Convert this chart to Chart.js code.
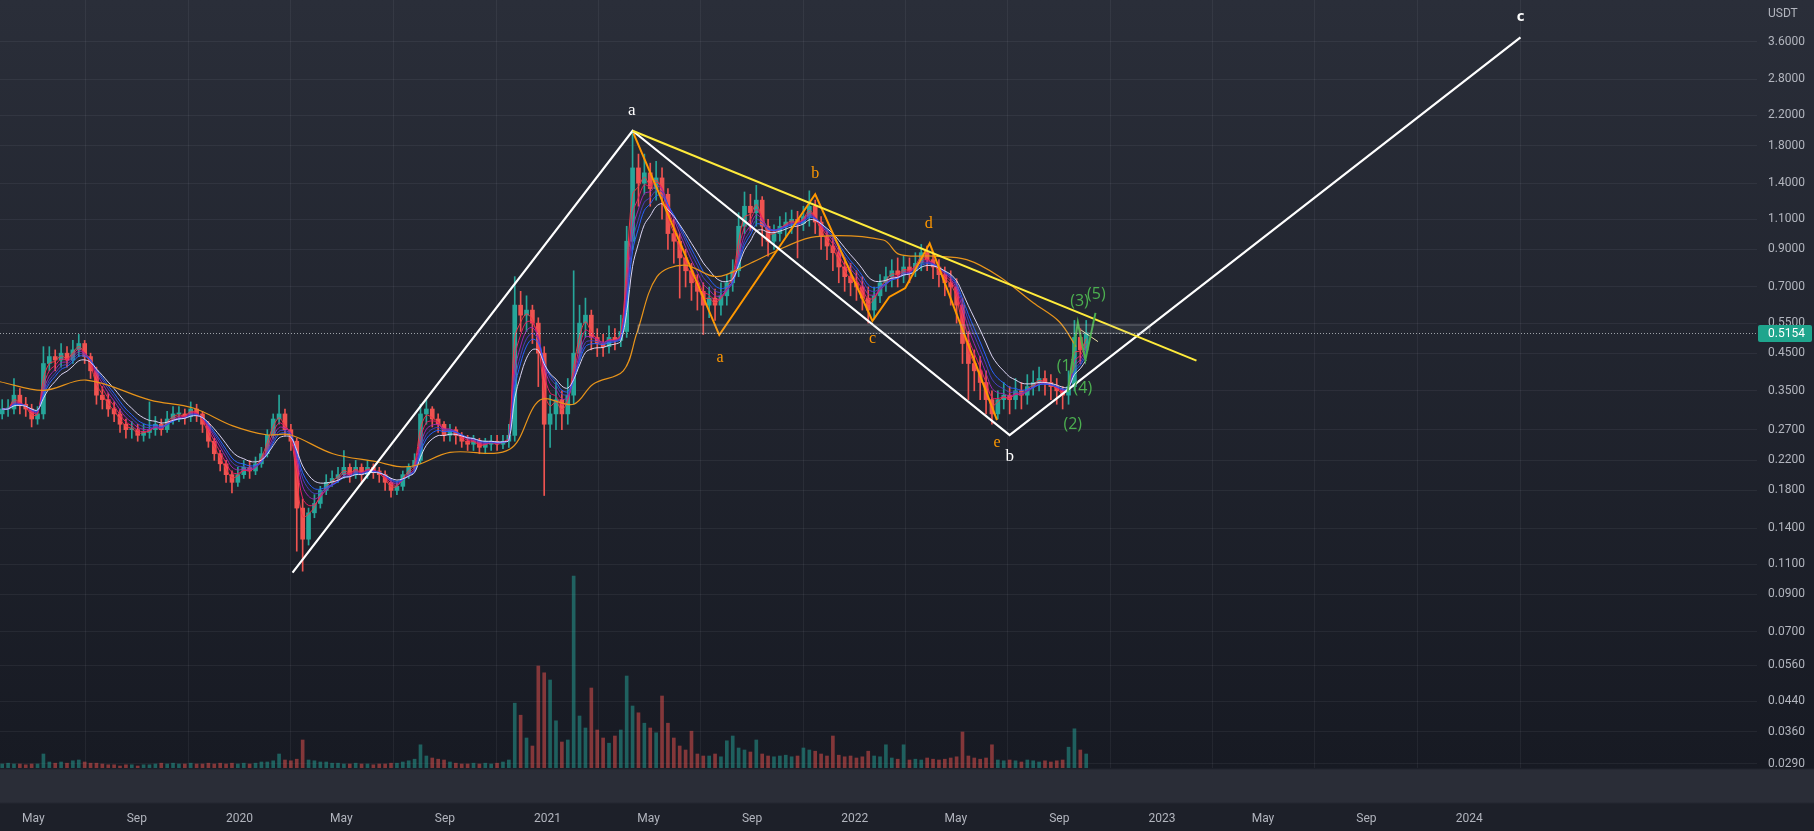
<!DOCTYPE html>
<html>
<head>
<meta charset="utf-8">
<title>USDT weekly</title>
<script src="https://cdn.jsdelivr.net/npm/chart.js@4.4.1/dist/chart.umd.min.js"></script>
<style>
  html, body { margin: 0; padding: 0; }
  body {
    width: 1814px; height: 831px; overflow: hidden;
    background: linear-gradient(to bottom, #2a2e39 0px, #171a23 768px, #2a2d37 770px, #2a2d37 802px, #1d2029 804px, #1d2029 831px);
  }
  canvas { display: block; }
</style>
</head>
<body>
<canvas id="grafic" width="1814" height="831"></canvas>
<script>
// weekly candles, first one starts on this monday
const weekStart = '2019-03-25';
const firstOpen = 0.30;
const closes = [
  0.31,0.31,0.34,0.32,0.31,0.29,0.30,0.42,0.44,0.43,
  0.45,0.43,0.46,0.48,0.44,0.40,0.34,0.33,0.31,0.30,
  0.28,0.27,0.27,0.26,0.265,0.27,0.28,0.27,0.29,0.30,
  0.30,0.295,0.31,0.30,0.28,0.25,0.23,0.215,0.20,0.19,
  0.20,0.21,0.205,0.215,0.23,0.26,0.29,0.30,0.27,0.25,
  0.16,0.13,0.155,0.165,0.18,0.19,0.195,0.20,0.21,0.20,
  0.21,0.20,0.21,0.205,0.20,0.19,0.18,0.185,0.20,0.21,
  0.22,0.30,0.31,0.29,0.28,0.26,0.27,0.26,0.25,0.245,
  0.25,0.24,0.245,0.25,0.245,0.25,0.26,0.62,0.58,0.60,
  0.55,0.45,0.28,0.30,0.33,0.30,0.34,0.45,0.55,0.58,
  0.50,0.48,0.47,0.50,0.49,0.52,0.95,1.55,1.40,1.50,
  1.35,1.45,1.30,1.00,0.95,0.85,0.78,0.72,0.68,0.62,
  0.65,0.62,0.66,0.72,0.78,1.05,1.20,1.15,1.25,1.05,
  0.95,1.00,1.05,1.08,1.10,1.07,1.12,1.20,1.08,0.98,
  0.92,0.88,0.80,0.75,0.72,0.70,0.65,0.60,0.66,0.72,
  0.75,0.78,0.76,0.80,0.78,0.82,0.88,0.84,0.80,0.76,
  0.72,0.70,0.62,0.48,0.42,0.40,0.37,0.33,0.30,0.33,
  0.34,0.33,0.35,0.34,0.36,0.37,0.38,0.37,0.36,0.35,
  0.34,0.36,0.50,0.46,0.5154
];
const highs = [
  0.33,0.33,0.38,0.355,0.335,0.32,0.315,0.47,0.47,0.46,
  0.48,0.47,0.49,0.51,0.49,0.45,0.41,0.36,0.345,0.325,
  0.31,0.29,0.285,0.28,0.28,0.325,0.295,0.29,0.305,0.315,
  0.315,0.31,0.325,0.32,0.305,0.285,0.255,0.235,0.22,0.205,
  0.21,0.22,0.22,0.225,0.24,0.27,0.30,0.34,0.31,0.28,
  0.255,0.17,0.16,0.175,0.185,0.20,0.205,0.21,0.235,0.215,
  0.22,0.215,0.22,0.215,0.21,0.205,0.195,0.19,0.205,0.215,
  0.23,0.32,0.33,0.315,0.30,0.285,0.28,0.275,0.265,0.26,
  0.26,0.255,0.255,0.26,0.26,0.26,0.28,0.75,0.68,0.66,
  0.62,0.57,0.47,0.34,0.37,0.35,0.38,0.78,0.62,0.65,
  0.60,0.53,0.51,0.54,0.53,0.58,1.05,1.98,1.70,1.70,
  1.60,1.62,1.55,1.35,1.10,1.00,0.90,0.82,0.76,0.72,
  0.70,0.69,0.72,0.76,0.84,1.15,1.32,1.30,1.38,1.28,
  1.10,1.06,1.12,1.15,1.17,1.16,1.20,1.33,1.25,1.12,
  1.02,0.98,0.92,0.85,0.82,0.78,0.75,0.70,0.70,0.76,
  0.80,0.84,0.85,0.86,0.85,0.88,0.93,0.92,0.88,0.84,
  0.80,0.78,0.74,0.65,0.52,0.46,0.44,0.40,0.35,0.35,
  0.37,0.36,0.38,0.37,0.39,0.40,0.41,0.40,0.39,0.38,
  0.36,0.40,0.56,0.53,0.56
];
const lows = [
  0.29,0.295,0.30,0.30,0.295,0.275,0.28,0.29,0.40,0.40,
  0.41,0.41,0.42,0.44,0.42,0.38,0.32,0.31,0.295,0.285,
  0.265,0.255,0.255,0.25,0.25,0.255,0.26,0.26,0.265,0.28,
  0.285,0.28,0.285,0.285,0.265,0.24,0.22,0.205,0.19,0.177,
  0.185,0.195,0.195,0.20,0.21,0.225,0.255,0.28,0.26,0.235,
  0.12,0.105,0.125,0.15,0.16,0.175,0.185,0.19,0.195,0.19,
  0.195,0.19,0.195,0.195,0.19,0.18,0.172,0.175,0.18,0.195,
  0.205,0.215,0.28,0.275,0.265,0.25,0.25,0.245,0.24,0.235,
  0.235,0.23,0.23,0.235,0.235,0.238,0.24,0.25,0.52,0.52,
  0.48,0.36,0.174,0.24,0.27,0.27,0.28,0.32,0.43,0.50,
  0.46,0.44,0.44,0.45,0.46,0.47,0.50,0.90,1.20,1.30,
  1.20,1.25,1.10,0.90,0.82,0.65,0.70,0.64,0.60,0.51,
  0.57,0.56,0.58,0.62,0.68,0.75,1.00,1.02,1.05,0.92,
  0.86,0.90,0.95,0.98,1.00,0.85,1.02,1.05,1.00,0.90,
  0.84,0.78,0.72,0.68,0.66,0.64,0.60,0.55,0.57,0.63,
  0.68,0.70,0.70,0.72,0.72,0.75,0.78,0.78,0.74,0.70,
  0.66,0.62,0.55,0.42,0.33,0.35,0.33,0.30,0.28,0.29,
  0.31,0.30,0.31,0.31,0.32,0.34,0.35,0.34,0.33,0.32,
  0.31,0.32,0.35,0.42,0.44
];
const volumes = [
  10,12,10,10,8,10,10,35,15,12,
  15,12,18,20,15,12,12,10,8,8,
  5,8,8,5,8,8,10,12,10,12,
  10,10,12,10,10,12,10,12,10,12,
  10,12,10,12,15,15,18,35,20,18,
  22,70,20,18,15,15,12,12,10,10,
  12,10,10,8,10,10,12,12,15,18,
  22,58,30,25,22,20,15,12,10,10,
  12,10,12,10,12,15,20,162,132,75,
  55,255,238,220,118,65,70,480,130,100,
  200,95,75,62,80,95,230,155,138,112,
  100,88,180,112,75,55,45,92,35,30,
  30,35,28,68,80,50,45,40,70,35,
  30,28,30,32,28,30,50,45,42,35,
  30,80,32,28,30,25,28,42,30,28,
  58,25,22,58,20,22,20,25,22,20,
  22,25,28,90,30,25,22,25,58,20,
  18,20,18,15,20,18,15,18,15,18,
  20,52,98,45,35
];

// long moving average
const longMaDates = ['2019-03-22','2019-05-13','2019-07-03','2019-09-17','2019-11-07','2019-12-24',
  '2020-02-02','2020-03-01','2020-04-21','2020-06-12','2020-07-09','2020-07-29','2020-09-07',
  '2020-11-17','2020-12-23','2021-02-01','2021-02-24','2021-04-01','2021-04-17','2021-05-11',
  '2021-06-12','2021-07-21','2021-08-30','2021-10-08','2021-11-16','2022-02-04','2022-02-23',
  '2022-04-04','2022-05-14','2022-06-22','2022-08-01','2022-09-01','2022-09-21'];
const longMaValues = [0.372,0.351,0.376,0.329,0.312,0.277,
  0.261,0.261,0.23,0.218,0.211,0.213,0.232,
  0.237,0.329,0.32,0.366,0.40,0.514,0.75,
  0.81,0.75,0.82,0.91,0.98,0.958,0.87,
  0.86,0.84,0.75,0.63,0.555,0.47];
const ribbonPeriods = [2, 3, 4, 5, 6, 8];

// drawings
const waveDates = ['2020-03-04','2021-04-12','2022-07-04','2024-03-02'];
const wavePrices = [0.104, 1.987, 0.2606, 3.707];
const trendDates = ['2021-04-12','2023-02-11'];
const trendPrices = [1.987, 0.428];
const subDates = ['2021-04-13','2021-07-24','2021-11-15','2022-01-22','2022-02-11','2022-03-02','2022-03-31','2022-06-19'];
const subPrices = [1.956, 0.508, 1.300, 0.558, 0.655, 0.695, 0.937, 0.288];
const impulseDates = ['2022-09-11','2022-09-23','2022-10-02','2022-10-14'];
const impulsePrices = [0.347, 0.554, 0.430, 0.589];
const fibDates = ['2022-09-27','2022-10-17'];
const fibPrices = [0.525, 0.486];
const zoneDates = ['2021-04-18','2022-12-17'];
const zonePrices = [0.516, 0.545];
const lastPrice = 0.5154;

const noteTexts = ['a','b','c','a','b','c','d','e','(1)','(2)','(3)','(4)','(5)'];
const noteDates = ['2021-04-11','2022-07-04','2024-03-02','2021-07-25','2021-11-15','2022-01-22',
  '2022-03-30','2022-06-19','2022-09-09','2022-09-17','2022-09-25','2022-09-29','2022-10-15'];
const notePrices = [2.28, 0.225, 4.245, 0.435, 1.488, 0.4937, 1.066, 0.2466, 0.413, 0.279, 0.635, 0.356, 0.664];

const tickDates = ['2019-05-01','2019-09-01','2020-01-01','2020-05-01','2020-09-01','2021-01-01','2021-05-01',
  '2021-09-01','2022-01-01','2022-05-01','2022-09-01','2023-01-01','2023-05-01','2023-09-01','2024-01-01'];
const tickLabels = ['May','Sep','2020','May','Sep','2021','May','Sep','2022','May','Sep','2023','May','Sep','2024'];
const priceTicks = [0.029,0.036,0.044,0.056,0.07,0.09,0.11,0.14,0.18,0.22,0.27,0.35,0.45,0.55,0.7,0.9,1.1,1.4,1.8,2.2,2.8,3.6];

const EPOCH = Date.UTC(2020, 0, 1);
function day(s) {
  const p = s.split('-').map(Number);
  return (Date.UTC(p[0], p[1] - 1, p[2]) - EPOCH) / 864e5;
}
function points(dates, prices) {
  return dates.map((d, i) => ({x: day(d), y: prices[i]}));
}
function ema(values, n) {
  const k = 2 / (n + 1);
  let out = [];
  values.forEach((v, i) => {
    out.push(i === 0 ? v : v * k + out[i - 1] * (1 - k));
  });
  return out;
}

const x0 = day(weekStart);
const xs = closes.map((c, i) => x0 + 7 * i);
const opens = closes.map((c, i) => i === 0 ? firstOpen : closes[i - 1]);
const up = closes.map((c, i) => c >= opens[i]);

const UP = '#26a69a', DOWN = '#ef5350';
const ribbonColors = ['#f23645', '#e91e63', '#9c27b0', '#4a3fc0', '#2962ff', '#dcd6f5'];

function lineSet(data, color, width, order) {
  return {
    type: 'line', data: data, borderColor: color, borderWidth: width,
    pointRadius: 0, fill: false, tension: 0, order: order, yAxisID: 'y'
  };
}

let datasets = [];
datasets.push({
  type: 'bar', yAxisID: 'yv', order: 30, grouped: false, barThickness: 3,
  data: volumes.map((v, i) => ({x: xs[i], y: v})),
  backgroundColor: up.map(u => u ? 'rgba(38,166,154,0.5)' : 'rgba(239,83,80,0.5)')
});
datasets.push({
  type: 'bar', yAxisID: 'y', order: 21, grouped: false, barThickness: 1,
  data: closes.map((c, i) => ({x: xs[i], y: [lows[i], highs[i]]})),
  backgroundColor: up.map(u => u ? UP : DOWN)
});
datasets.push({
  type: 'bar', yAxisID: 'y', order: 20, grouped: false, barThickness: 4, minBarLength: 1,
  data: closes.map((c, i) => ({x: xs[i], y: [opens[i], c]})),
  backgroundColor: up.map(u => u ? UP : DOWN)
});
ribbonPeriods.forEach((n, k) => {
  const m = ema(closes, n);
  let ds = lineSet(m.map((v, i) => ({x: xs[i], y: v})), ribbonColors[k], 1, 15 - k);
  ds.tension = 0.35;
  datasets.push(ds);
});
let longMa = lineSet(points(longMaDates, longMaValues), '#e8941a', 1.2, 8);
longMa.tension = 0.35;
datasets.push(longMa);
datasets.push(lineSet(points(subDates, subPrices), '#ff9800', 2, 4));
datasets.push(lineSet(points(waveDates, wavePrices), '#ffffff', 2.2, 3));
datasets.push(lineSet(points(trendDates, trendPrices), '#ffeb3b', 2, 2));
datasets.push(lineSet(points(impulseDates, impulsePrices), '#4caf50', 2, 1));
datasets.push(lineSet(points(fibDates, fibPrices), '#f3e5ab', 1, 1));

const overlay = {
  id: 'overlay',
  afterDatasetsDraw(chart) {
    const ctx = chart.ctx, a = chart.chartArea;
    const x = chart.scales.x, y = chart.scales.y;
    ctx.save();
    ctx.beginPath();
    ctx.rect(a.left, a.top, a.right - a.left, a.bottom - a.top);
    ctx.clip();

    // price zone
    const zx1 = x.getPixelForValue(day(zoneDates[0])), zx2 = x.getPixelForValue(day(zoneDates[1]));
    const zy1 = y.getPixelForValue(zonePrices[1]), zy2 = y.getPixelForValue(zonePrices[0]);
    ctx.fillStyle = 'rgba(170,175,185,0.1)';
    ctx.fillRect(zx1, zy1, zx2 - zx1, zy2 - zy1);
    ctx.strokeStyle = 'rgba(200,200,205,0.4)';
    ctx.lineWidth = 1;
    ctx.strokeRect(zx1 + 0.5, zy1 + 0.5, zx2 - zx1, zy2 - zy1);

    // last price line
    const ly = Math.round(y.getPixelForValue(lastPrice)) + 0.5;
    ctx.setLineDash([1, 2]);
    ctx.strokeStyle = 'rgba(210,215,220,0.7)';
    ctx.beginPath();
    ctx.moveTo(a.left, ly);
    ctx.lineTo(a.right, ly);
    ctx.stroke();
    ctx.setLineDash([]);

    // wave labels
    ctx.textAlign = 'center';
    ctx.textBaseline = 'middle';
    noteTexts.forEach((t, i) => {
      const px = x.getPixelForValue(day(noteDates[i]));
      const py = y.getPixelForValue(notePrices[i]);
      if (i < 3) {
        ctx.fillStyle = '#ffffff';
        ctx.font = i === 2 ? 'bold 15px "Open Sans", sans-serif' : '17px "Liberation Serif", serif';
      } else if (i < 8) {
        ctx.fillStyle = '#ff9800';
        ctx.font = '16px "Liberation Serif", serif';
      } else {
        ctx.fillStyle = '#4caf50';
        ctx.font = '16px "Open Sans", sans-serif';
      }
      ctx.fillText(t, px, py);
    });
    ctx.restore();
  },
  afterDraw(chart) {
    const ctx = chart.ctx, a = chart.chartArea, y = chart.scales.y;
    const py = Math.round(y.getPixelForValue(lastPrice));
    ctx.save();
    ctx.fillStyle = '#1fa58d';
    ctx.beginPath();
    ctx.roundRect(a.right + 1, py - 8, 54, 17, 2);
    ctx.fill();
    ctx.fillStyle = '#ffffff';
    ctx.font = '12px Roboto, sans-serif';
    ctx.textAlign = 'left';
    ctx.textBaseline = 'middle';
    ctx.fillText(lastPrice.toFixed(4), a.right + 11, py + 1);
    ctx.fillStyle = '#b2b5be';
    ctx.fillText('USDT', a.right + 11, 14);
    ctx.restore();
  }
};

Chart.defaults.font.family = 'Roboto, "Liberation Sans", sans-serif';
Chart.defaults.font.size = 12;

const grafica = new Chart(document.getElementById('grafic'), {
  type: 'bar',
  data: {datasets: datasets},
  options: {
    responsive: false,
    animation: false,
    events: [],
    layout: {padding: 0},
    plugins: {legend: {display: false}, tooltip: {enabled: false}},
    scales: {
      x: {
        type: 'linear', offset: false,
        min: -284.6, max: 1803,
        grid: {color: 'rgba(240,243,250,0.06)', drawTicks: false},
        border: {display: false},
        afterBuildTicks: s => { s.ticks = tickDates.map(d => ({value: day(d)})); },
        afterFit: s => { s.height = 63; s.paddingLeft = 0; s.paddingRight = 0; },
        ticks: {
          color: '#b2b5be', padding: 44, autoSkip: false, maxRotation: 0,
          callback: (v, i) => tickLabels[i]
        }
      },
      y: {
        type: 'logarithmic', position: 'right',
        min: 0.02822, max: 4.755,
        grid: {color: 'rgba(240,243,250,0.06)', drawTicks: false},
        border: {display: false},
        afterBuildTicks: s => { s.ticks = priceTicks.map(v => ({value: v})); },
        afterFit: s => { s.width = 57; s.paddingTop = 0; s.paddingBottom = 0; },
        ticks: {
          color: '#b2b5be', padding: 11, autoSkip: false,
          callback: v => Number(v).toFixed(4)
        }
      },
      yv: {
        type: 'linear', display: false, min: 0, max: 1920
      }
    }
  },
  plugins: [overlay]
});
</script>
</body>
</html>
